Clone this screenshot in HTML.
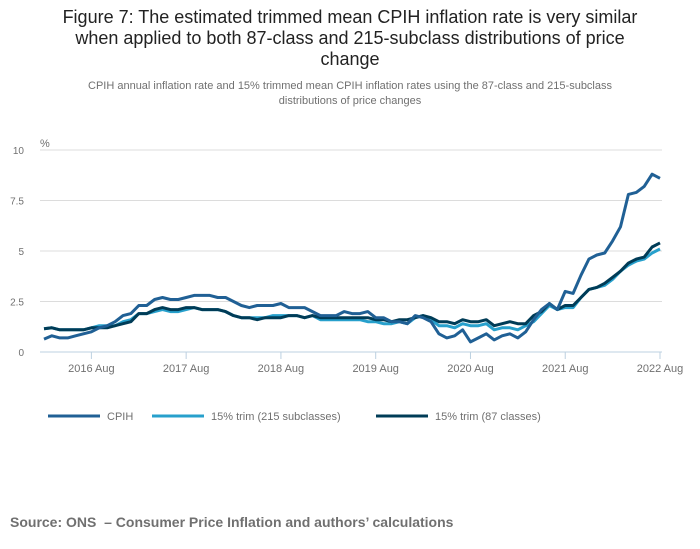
<!DOCTYPE html>
<html><head><meta charset="utf-8"><style>
body{margin:0;width:700px;height:549px;background:#fff;font-family:"Liberation Sans",sans-serif;overflow:hidden}
#title{position:absolute;left:0;width:700px;top:7px;text-align:center;font-size:18px;line-height:21px;color:#222}
#sub{position:absolute;left:0;width:700px;top:79px;text-align:center;font-size:11px;line-height:15px;color:#707070}
#src{position:absolute;left:10px;top:514px;font-size:14px;font-weight:bold;color:#707070}
svg{position:absolute;left:0;top:0}
</style></head><body>
<div id="title">Figure 7: The estimated trimmed mean CPIH inflation rate is very similar<br>when applied to both 87-class and 215-subclass distributions of price<br>change</div>
<div id="sub">CPIH annual inflation rate and 15% trimmed mean CPIH inflation rates using the 87-class and 215-subclass<br>distributions of price changes</div>
<svg id="chart" width="700" height="549"></svg>
<div id="src">Source: ONS &nbsp;– Consumer Price Inflation and authors’ calculations</div>
<script>
const yTicks=[0,2.5,5,7.5,10];
const yTickLabels=["0","2.5","5","7.5","10"];
const xTickIdx=[6,18,30,42,54,66,78];
const xTickLabels=["2016 Aug","2017 Aug","2018 Aug","2019 Aug","2020 Aug","2021 Aug","2022 Aug"];
const seriesNames=["CPIH","15% trim (215 subclasses)","15% trim (87 classes)"];
const cpih=[0.64,0.8,0.7,0.7,0.8,0.9,1.0,1.2,1.3,1.5,1.8,1.9,2.3,2.3,2.6,2.7,2.6,2.6,2.7,2.8,2.8,2.8,2.7,2.7,2.5,2.3,2.2,2.3,2.3,2.3,2.4,2.2,2.2,2.2,2.0,1.8,1.8,1.8,2.0,1.9,1.9,2.0,1.7,1.7,1.5,1.5,1.4,1.8,1.7,1.5,0.9,0.7,0.8,1.1,0.5,0.7,0.9,0.6,0.8,0.9,0.7,1.0,1.6,2.1,2.4,2.1,3.0,2.9,3.8,4.6,4.8,4.9,5.5,6.2,7.8,7.9,8.2,8.8,8.6];
const trim215=[1.15,1.2,1.1,1.1,1.1,1.1,1.2,1.3,1.3,1.3,1.5,1.6,1.9,1.9,2.0,2.1,2.0,2.0,2.1,2.2,2.1,2.1,2.1,2.0,1.8,1.7,1.7,1.7,1.7,1.8,1.8,1.8,1.8,1.7,1.8,1.6,1.6,1.6,1.6,1.6,1.6,1.5,1.5,1.4,1.4,1.5,1.4,1.7,1.8,1.6,1.3,1.3,1.2,1.4,1.3,1.3,1.4,1.1,1.2,1.2,1.1,1.3,1.5,1.9,2.3,2.1,2.2,2.2,2.7,3.1,3.2,3.3,3.6,4.0,4.3,4.5,4.6,4.9,5.1];
const trim87=[1.15,1.2,1.1,1.1,1.1,1.1,1.2,1.2,1.2,1.3,1.4,1.5,1.9,1.9,2.1,2.2,2.1,2.1,2.2,2.2,2.1,2.1,2.1,2.0,1.8,1.7,1.7,1.6,1.7,1.7,1.7,1.8,1.8,1.7,1.8,1.7,1.7,1.7,1.7,1.7,1.7,1.7,1.6,1.6,1.5,1.6,1.6,1.7,1.8,1.7,1.5,1.5,1.4,1.6,1.5,1.5,1.6,1.3,1.4,1.5,1.4,1.4,1.8,2.0,2.4,2.1,2.3,2.3,2.7,3.1,3.2,3.4,3.7,4.0,4.4,4.6,4.7,5.2,5.4];
const colors=["#206095","#27a0cc","#003c57"];
const svg=document.getElementById('chart');
const NS="http://www.w3.org/2000/svg";
const x0=44,x1=660,yb=352,yt=150,n=cpih.length;
const xs=i=>x0+(x1-x0)*i/(n-1);
const ys=v=>yb-(yb-yt)*v/10;
function mk(t,a){const e=document.createElementNS(NS,t);for(const k in a)e.setAttribute(k,a[k]);svg.appendChild(e);return e;}
yTicks.forEach((v,i)=>{
  if(v>0){const g=mk('line',{x1:x0-4,x2:x1+2,y1:ys(v),y2:ys(v),stroke:'#dcdcdc','stroke-width':1});
  
  }
  const t=mk('text',{x:24,y:ys(v)+4,'font-size':10,fill:'#707070','text-anchor':'end'});
  t.textContent=yTickLabels[i];
  
  
});
const u=mk('text',{x:40,y:147,'font-size':11,fill:'#707070'});u.textContent='%';


const ax=mk('line',{x1:x0-4,x2:x1+2,y1:yb,y2:yb,stroke:'#bcd0e0','stroke-width':1});


xTickIdx.forEach((idx,i)=>{
  const l=mk('line',{x1:xs(idx),x2:xs(idx),y1:yb,y2:yb+7,stroke:'#bcd0e0'});
  
  
  const t=mk('text',{x:xs(idx),y:yb+20,'font-size':11,fill:'#707070','text-anchor':'middle'});
  t.textContent=xTickLabels[i];
  
  
});
[[trim215,1],[trim87,2],[cpih,0]].forEach(([arr,c])=>{
  const p=mk('path',{d:arr.map((v,i)=>(i?'L':'M')+xs(i).toFixed(1)+','+ys(v).toFixed(1)).join(''),fill:'none',stroke:colors[c],'stroke-width':3,'stroke-linejoin':'round'});
  
  
});
const lx=[48,152,376];
seriesNames.forEach((nm,i)=>{
  const l=mk('line',{x1:lx[i],x2:lx[i]+52,y1:416,y2:416,stroke:colors[i],'stroke-width':3});
  
  
  const t=mk('text',{x:lx[i]+59,y:420,'font-size':11,fill:'#707070'});
  t.textContent=nm;
  
  
});
</script>
</body></html>
